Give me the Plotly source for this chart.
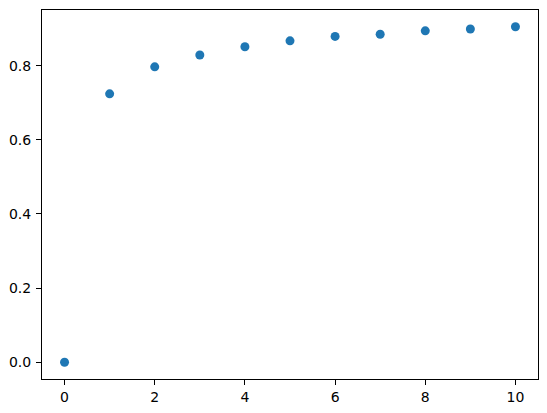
import plotly.graph_objects as go

# data
x_vals = [0, 1, 2, 3, 4, 5, 6, 7, 8, 9, 10]
y_vals = [0.0, 0.724, 0.797, 0.829, 0.851, 0.867, 0.879, 0.885, 0.894, 0.899, 0.905]

fig = go.Figure()
fig.add_trace(go.Scatter(
    x=x_vals, y=y_vals, mode='markers',
    marker=dict(size=9, color='#1f77b4'),
))

axis_style = dict(
    showline=True, mirror=True, linecolor='black', linewidth=1,
    showgrid=False, zeroline=False, automargin=False,
    ticks='outside', ticklen=5, tickcolor='black', tickwidth=1,
    tickfont=dict(family='DejaVu Sans', size=14, color='black'),
)

fig.update_xaxes(range=[-0.5, 10.5], dtick=2, tick0=0, **axis_style)
fig.update_yaxes(range=[-0.0453, 0.9503], dtick=0.2, tick0=0, tickformat='.1f',
                 ticklabelstandoff=2, **axis_style)

fig.update_layout(
    width=547, height=413,
    margin=dict(l=42, r=9, t=10, b=34),
    plot_bgcolor='white', paper_bgcolor='white',
    showlegend=False,
)

# browser default body margin would shift the figure by 8px
fig.write_html("out.html", config={'displayModeBar': False},
               post_script="document.body.style.margin='0';")
